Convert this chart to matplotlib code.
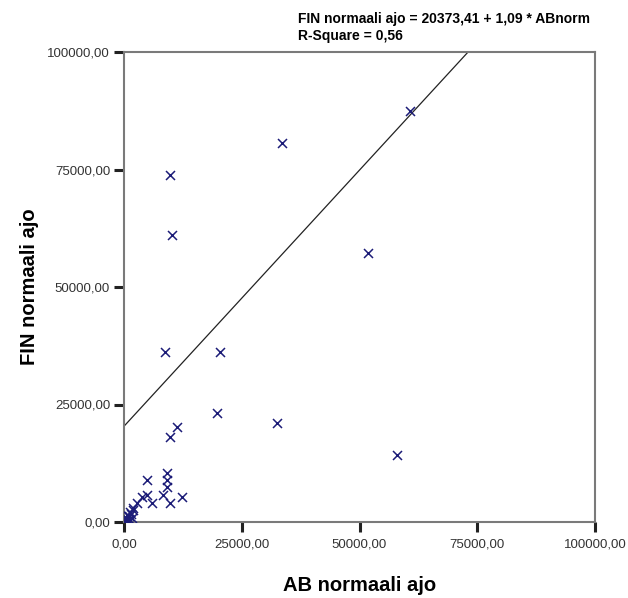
import numpy as np
import matplotlib
matplotlib.use("Agg")
import matplotlib.pyplot as plt
from matplotlib.ticker import FuncFormatter

# AB normaali ajo (x) vs FIN normaali ajo (y)
ab_norm = [60700, 33500, 51800, 58000, 9800, 10200, 8700, 20400, 19700, 32500,
           11300, 9800, 4900, 9100, 9100, 9100, 8300, 12300, 9800, 4900,
           3800, 5900, 2800, 1900, 1300, 200, 500, 1000, 300, 1500,
           800, 2000, 100, 1200, 600, 400, 1700]
fin_norm = [87400, 80600, 57200, 14300, 73800, 61100, 36200, 36200, 23200, 21000,
            20200, 18100, 8900, 10400, 8900, 7400, 5700, 5300, 4000, 5700,
            5300, 4000, 4000, 3000, 2100, 300, 800, 1200, 100, 1700,
            400, 2500, 600, 500, 1500, 200, 900]

# regression from the chart header
intercept = 20373.41
slope = 1.09
r_square = 0.56

ticks = [0, 25000, 50000, 75000, 100000]


def comma(v):
    return ('%.2f' % v).replace('.', ',')


plt.rcParams['font.family'] = ['Liberation Sans', 'DejaVu Sans']

fig = plt.figure(figsize=(6.28, 5.98), dpi=100)
ax = fig.add_axes([124/628, 1 - 522/598, (595 - 124)/628, (522 - 52)/598])

ax.scatter(ab_norm, fin_norm, marker='x', s=42, color='#1c1c78', linewidths=1.1, zorder=3)

xl = np.array([0, 100000])
ax.plot(xl, intercept + slope*xl, color='#222222', lw=0.9, zorder=2)

ax.set_xlim(0, 100000)
ax.set_ylim(0, 100000)
ax.set_xticks(ticks)
ax.set_yticks(ticks)
fmt = FuncFormatter(lambda v, p: comma(v))
ax.xaxis.set_major_formatter(fmt)
ax.yaxis.set_major_formatter(fmt)

for s in ax.spines.values():
    s.set_color('#7a7a7a')
    s.set_linewidth(1.5)
ax.tick_params(direction='out', length=7, width=2.2, color='#222222',
               labelsize=9.5, labelcolor='#333333')
ax.tick_params(axis='x', pad=5)
ax.tick_params(axis='y', pad=3)

ax.set_xlabel('AB normaali ajo', fontsize=14.5, fontweight='bold', labelpad=18)
ax.set_ylabel('FIN normaali ajo', fontsize=14.5, fontweight='bold', labelpad=6)

fig.text(298/628, 1 - 19/598, 'FIN normaali ajo = %s + %s * ABnorm' % (comma(intercept), comma(slope)),
         fontsize=10, fontweight='bold', va='center', ha='left')
fig.text(298/628, 1 - 36/598, 'R-Square = %s' % comma(r_square),
         fontsize=10, fontweight='bold', va='center', ha='left')

fig.savefig('out.png', dpi=100)
